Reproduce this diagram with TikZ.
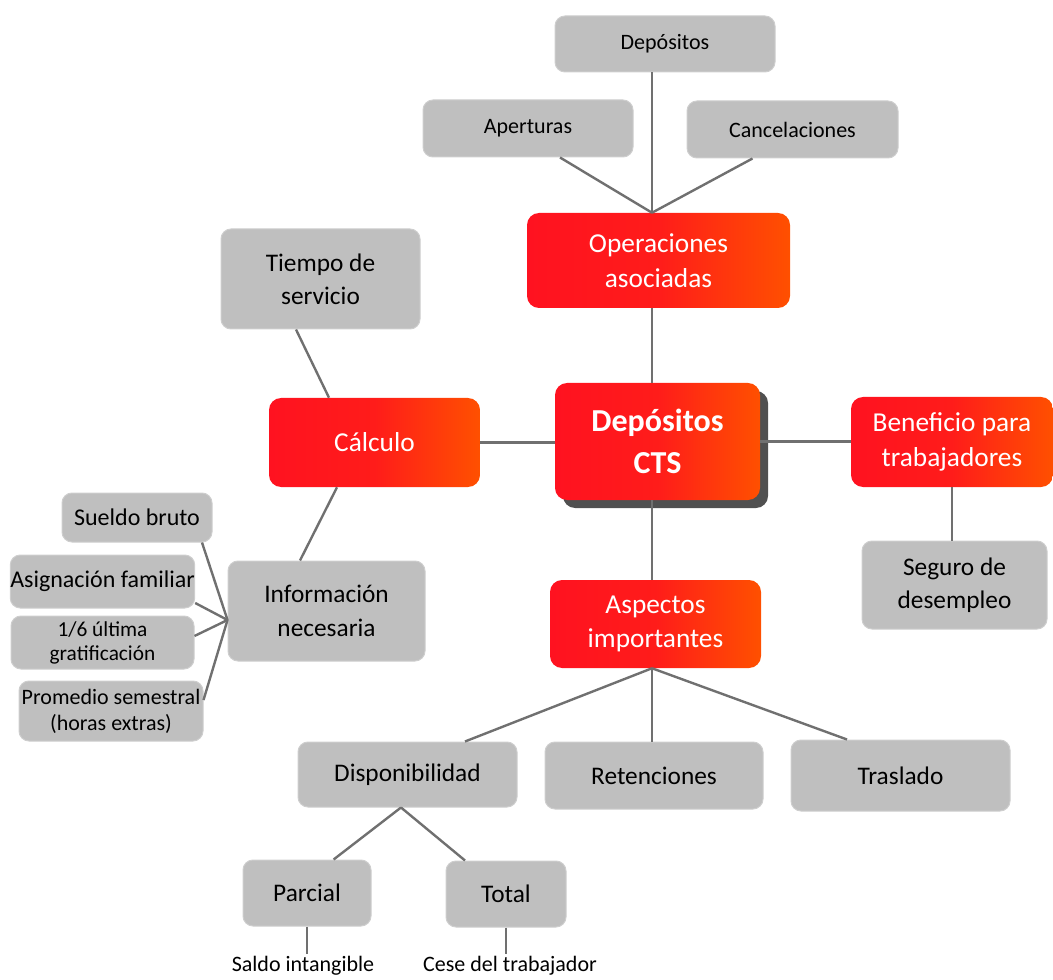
\documentclass[tikz,border=0pt]{standalone}
\usepackage{fontspec}
\setmainfont{Carlito}
\usetikzlibrary{calc,shadows}
\definecolor{boxgray}{RGB}{191,191,191}
\definecolor{boxedge}{RGB}{206,206,206}
\definecolor{linegray}{RGB}{112,112,112}
\definecolor{redL}{RGB}{255,18,32}
\definecolor{redM}{RGB}{255,28,26}
\definecolor{redR}{RGB}{255,80,0}
\definecolor{shadowgray}{RGB}{80,80,80}
\newcommand\fTop{\fontsize{16.5pt}{20pt}\selectfont}
\newcommand\fGray{\fontsize{19pt}{25pt}\selectfont}
\newcommand\fRed{\fontsize{20.5pt}{26pt}\selectfont}
\newcommand\fCts{\bfseries\fontsize{24pt}{31.5pt}\selectfont}
\newcommand\fLeft{\fontsize{18pt}{22pt}\selectfont}
\newcommand\fGra{\fontsize{16pt}{18pt}\selectfont}
\newcommand\fPro{\fontsize{16.5pt}{19.5pt}\selectfont}
\newcommand\fLab{\fontsize{16.5pt}{19pt}\selectfont}
\begin{document}
\begin{tikzpicture}[x=0.75pt,y=-0.75pt,
  graybox/.style={rectangle, rounded corners=7.5pt, fill=boxgray, draw=boxedge, line width=0.75pt, align=center, text=black, inner sep=0pt},
  redbox/.style={rectangle, rounded corners=9pt, left color=redL, right color=redR, middle color=redM, align=center, text=white, inner sep=0pt},
  ctsbox/.style={redbox, drop shadow={shadow xshift=6pt, shadow yshift=-6pt, fill=shadowgray, opacity=1}},
  link/.style={draw=linegray, line width=1.8pt},
  lab/.style={text=black, font=\fLab, inner sep=2pt}
]
\useasboundingbox (0,0) rectangle (1053,980);
\coordinate (axis) at (652,0);

\node[graybox, minimum width=165pt, minimum height=42pt, font=\fTop] (dep) at (665,44) {Depósitos};
\node[graybox, minimum width=157.5pt, minimum height=42.75pt, font=\fTop] (ape) at (528,128.5) {Aperturas};
\node[graybox, minimum width=158.25pt, minimum height=42.75pt, font=\fTop] (can) at (792.5,129.5) {Cancelaciones};
\node[redbox, minimum width=197.25pt, minimum height=71.25pt, font=\fRed] (ops) at (658.5,260.5) {Operaciones\\asociadas};
\node[graybox, minimum width=149.25pt, minimum height=75pt, font=\fGray] (tie) at (320.5,279) {Tiempo de\\servicio};
\node[redbox, minimum width=158.25pt, minimum height=66.75pt, font=\fRed] (cal) at (374.5,442.5) {Cálculo};
\node[ctsbox, minimum width=153.75pt, minimum height=87.75pt, font=\fCts] (cts) at (657.5,441.5) {Depósitos\\CTS};
\node[redbox, minimum width=151.5pt, minimum height=67.5pt, font=\fRed] (ben) at (952,442) {Beneficio para\\trabajadores};
\node[graybox, minimum width=138.75pt, minimum height=66pt, font=\fGray] (seg) at (954.5,585) {Seguro de\\desempleo};
\node[graybox, minimum width=112.5pt, minimum height=36.75pt, font=\fLeft] (sue) at (137,517.5) {Sueldo bruto};
\node[graybox, minimum width=137.25pt, minimum height=39.75pt, font=\fLeft] (asi) at (102.5,581.5) {Asignación familiar};
\node[graybox, minimum width=137.25pt, minimum height=39.75pt, font=\fGra] (gra) at (102.5,642.5) {1/6 última\\gratificación};
\node[graybox, minimum width=138pt, minimum height=45pt, font=\fPro] (pro) at (111,711) {Promedio semestral\\(horas extras)};
\node[graybox, minimum width=147.75pt, minimum height=75pt, font=\fGray] (inf) at (326.5,611) {Información\\necesaria};
\node[redbox, minimum width=158.25pt, minimum height=66pt, font=\fRed] (asp) at (655.5,624) {Aspectos\\importantes};
\node[graybox, minimum width=164.25pt, minimum height=48.75pt, font=\fGray] (dis) at (407.5,774.5) {Disponibilidad};
\node[graybox, minimum width=163.5pt, minimum height=50.25pt, font=\fGray] (ret) at (654,775.5) {Retenciones};
\node[graybox, minimum width=164.25pt, minimum height=53.25pt, font=\fGray] (tra) at (900.5,775.5) {Traslado};
\node[graybox, minimum width=96pt, minimum height=49.5pt, font=\fGray] (par) at (307,893) {Parcial};
\node[graybox, minimum width=90pt, minimum height=49.5pt, font=\fGray] (tot) at (506,894) {Total};
\node[lab] (sal) at (303,966) {Saldo intangible};
\node[lab] (ces) at (510,966) {Cese del trabajador};

\draw[link] (dep.south -| axis) -- (ops.north -| axis);
\draw[link] ($(ape.south)+(32,0)$) -- (ops.north -| axis);
\draw[link] ($(can.south)+(-40,0)$) -- (ops.north -| axis);
\draw[link] (ops.south -| axis) -- (cts.north -| axis);
\draw[link] (cts.south -| axis) -- (asp.north -| axis);
\draw[link] (asp.south -| axis) -- (ret.north -| axis);
\draw[link] (asp.south -| axis) -- ($(dis.north)+(57.5,0)$);
\draw[link] (asp.south -| axis) -- ($(tra.north)+(-53.5,0)$);
\draw[link] (cal.east) -- (cal.east -| cts.west);
\draw[link] (cts.east) -- (cts.east -| ben.west);
\draw[link] (ben.south) -- (ben.south |- seg.north);
\draw[link] ($(tie.south)+(-24.5,0)$) -- ($(cal.north)+(-45.5,0)$);
\draw[link] ($(cal.south)+(-37.5,0)$) -- ($(inf.north)+(-26.5,0)$);
\draw[link] ($(sue.south)+(65,0)$) -- ($(inf.west)+(0,9)$);
\draw[link] ($(asi.east)+(0,21.5)$) -- ($(inf.west)+(0,9)$);
\draw[link] ($(gra.east)+(0,-6.5)$) -- ($(inf.west)+(0,9)$);
\draw[link] ($(pro.east)+(0,-11)$) -- ($(inf.west)+(0,9)$);
\draw[link] ($(dis.south)+(-6.5,0)$) -- ($(par.north)+(26.6,0)$);
\draw[link] ($(dis.south)+(-6.5,0)$) -- ($(tot.north)+(-41,0)$);
\draw[link] (par.south) -- (par.south |- sal.north);
\draw[link] (tot.south) -- (tot.south |- ces.north);
\end{tikzpicture}
\end{document}
